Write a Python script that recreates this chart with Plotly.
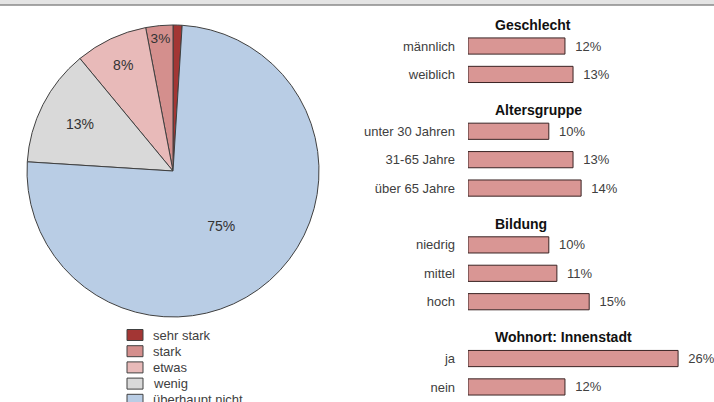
import plotly.graph_objects as go

# pie: wie stark betroffen
pie_labels = ['sehr stark', 'stark', 'etwas', 'wenig', 'überhaupt nicht']
pie_values = [1, 3, 8, 13, 75]
pie_colors = ['#A33634', '#D48F8D', '#E8BAB9', '#D9D9D9', '#B9CDE5']

# bars by group
groups = ['Geschlecht', 'Altersgruppe', 'Bildung', 'Wohnort: Innenstadt']
group_cats = [
    ['männlich', 'weiblich'],
    ['unter 30 Jahren', '31-65 Jahre', 'über 65 Jahre'],
    ['niedrig', 'mittel', 'hoch'],
    ['ja', 'nein'],
]
group_vals = [
    [12, 13],
    [10, 13, 14],
    [10, 11, 15],
    [26, 12],
]

W, H = 714, 402

if __name__ == '__main__':
    fig = go.Figure()

    fig.add_trace(go.Pie(
        labels=pie_labels,
        values=pie_values,
        text=[f'{v}%' if v >= 2 else '' for v in pie_values],
        textinfo='text',
        textposition='inside',
        insidetextorientation='horizontal',
        textfont=dict(size=14, color='#333333'),
        marker=dict(colors=pie_colors, line=dict(color='#404040', width=1)),
        sort=False,
        direction='counterclockwise',
        rotation=0,
        domain=dict(x=[27 / W, 319 / W], y=[1 - 317 / H, 1 - 25 / H]),
        hoverinfo='label+percent',
        showlegend=False,
    ))

    # legend for the pie, drawn by hand (tighter rows than plotly's legend)
    for i, (lab, col) in enumerate(zip(pie_labels, pie_colors)):
        yc = 335 + i * 16.2
        fig.add_shape(type='rect', xref='paper', yref='paper',
                      x0=127 / W, x1=143 / W, y0=1 - (yc + 5.5) / H, y1=1 - (yc - 5.5) / H,
                      fillcolor=col, line=dict(color='#404040', width=1))
        fig.add_annotation(x=151 / W, y=1 - yc / H, xref='paper', yref='paper',
                           text=lab, xanchor='left', yanchor='middle', showarrow=False,
                           font=dict(size=13, color='#404040'))

    # row positions: one blank row before each group for its title
    ys, cats, vals, titles = [], [], [], []
    row = 0
    for g, c, v in zip(groups, group_cats, group_vals):
        titles.append((g, row - 0.75))
        for cat, val in zip(c, v):
            ys.append(row)
            cats.append(cat)
            vals.append(val)
            row += 1
        row += 1

    fig.add_trace(go.Bar(
        x=vals,
        y=ys,
        orientation='h',
        width=0.57,
        marker=dict(color='#D99694', line=dict(color='#3A2424', width=1)),
        text=[f'\u00a0\u00a0{v}%' for v in vals],
        textposition='outside',
        textfont=dict(size=13, color='#404040'),
        cliponaxis=False,
        showlegend=False,
        xaxis='x',
        yaxis='y',
    ))

    for g, y in titles:
        fig.add_annotation(
            x=3.1, y=y, xref='x', yref='y', text=f'<b>{g}</b>',
            xanchor='left', yanchor='middle', showarrow=False,
            font=dict(size=14, color='#111111'),
        )

    # grey window strip at the top
    fig.add_shape(type='rect', xref='paper', yref='paper', x0=0, x1=1,
                  y0=1 - 5 / H, y1=1, fillcolor='#E4E4E4',
                  line=dict(width=0), layer='above')
    fig.add_shape(type='line', xref='paper', yref='paper', x0=0, x1=1,
                  y0=1 - 5 / H, y1=1 - 5 / H,
                  line=dict(color='#8A8A8A', width=1.5), layer='above')

    fig.update_layout(
        width=W,
        height=H,
        margin=dict(l=0, r=0, t=0, b=0, autoexpand=False),
        paper_bgcolor='white',
        plot_bgcolor='white',
        font=dict(family='Liberation Sans, Arial, sans-serif', size=12, color='#333333'),
        xaxis=dict(domain=[468 / W, 1], range=[0, 246 / 8.08], visible=False,
                   fixedrange=True),
        yaxis=dict(domain=[0, 1], range=[12.53, -1.62], tickvals=ys, ticktext=cats,
                   showgrid=False, zeroline=False, showline=False, ticks='',
                   ticklabelstandoff=12, tickfont=dict(size=13, color='#404040'),
                   fixedrange=True),
        showlegend=False,
    )

    fig.write_html('out.html', config={'displayModeBar': False},
                   post_script="document.body.style.margin='0';")
